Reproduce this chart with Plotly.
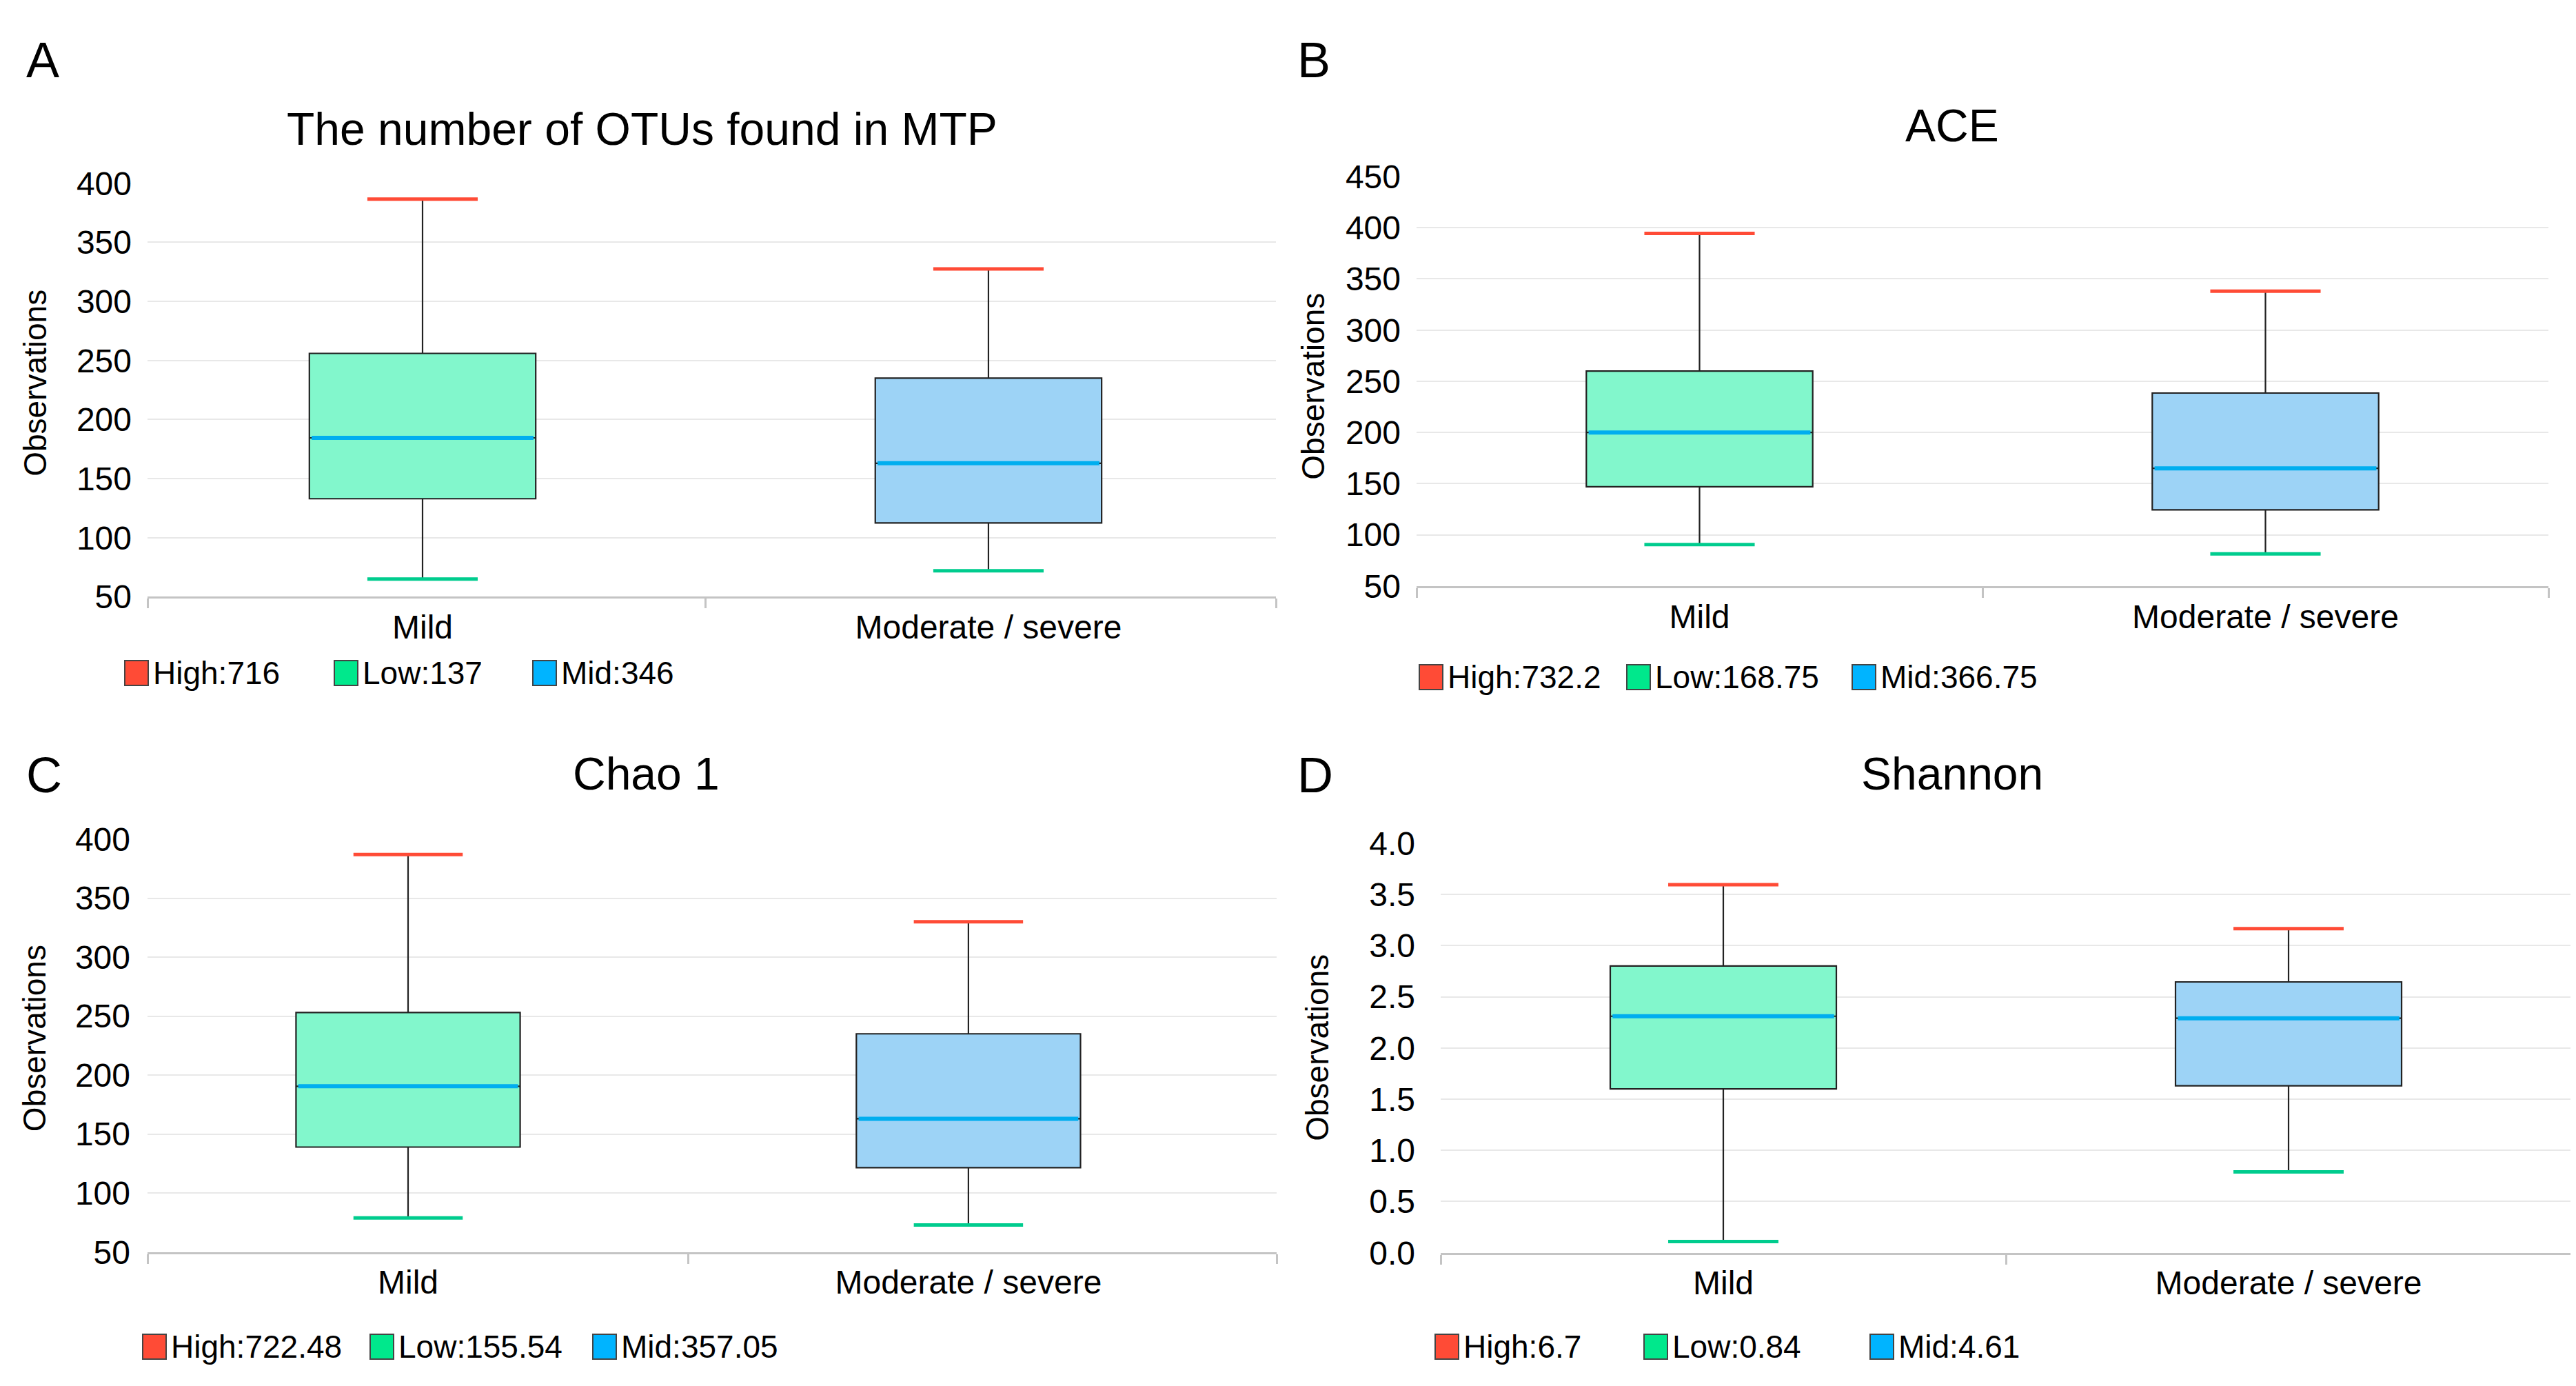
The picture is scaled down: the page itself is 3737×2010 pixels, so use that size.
import plotly.graph_objects as go

W, H = 3737, 2010
FONT = "Liberation Sans, Arial, sans-serif"

categories = ["Mild", "Moderate / severe"]

# Panel A: The number of OTUs found in MTP
a_low = [65, 72]
a_q1 = [133, 112.5]
a_med = [184.5, 163]
a_q3 = [256, 235]
a_high = [386.5, 327.5]
a_legend = ["High:716", "Low:137", "Mid:346"]

# Panel B: ACE
b_low = [90.5, 81.5]
b_q1 = [147, 124.5]
b_med = [200, 165]
b_q3 = [260, 238.5]
b_high = [394.5, 338]
b_legend = ["High:732.2", "Low:168.75", "Mid:366.75"]

# Panel C: Chao 1
c_low = [79, 73]
c_q1 = [139, 121.5]
c_med = [190.5, 163]
c_q3 = [253, 235]
c_high = [387, 330]
c_legend = ["High:722.48", "Low:155.54", "Mid:357.05"]

# Panel D: Shannon
d_low = [0.11, 0.79]
d_q1 = [1.6, 1.63]
d_med = [2.31, 2.29]
d_q3 = [2.8, 2.645]
d_high = [3.595, 3.165]
d_legend = ["High:6.7", "Low:0.84", "Mid:4.61"]

titles = ["The number of OTUs found in MTP", "ACE", "Chao 1", "Shannon"]
letters = ["A", "B", "C", "D"]

# styles
FILLS = ["#82F7CC", "#9DD3F6"]
RED = "#FF4B36"
GREEN_CAP = "#00CC8E"
MED_BLUE = "#00AEEF"
LEG_COLORS = ["#FF4B36", "#00E88C", "#00B4FF"]
BOX_W = 0.4
CAP_W = 0.195

panels = [
    dict(low=a_low, q1=a_q1, med=a_med, q3=a_q3, high=a_high, leg=a_legend,
         px=(206, 1843), py=(238, 854), xr=[-0.486, 1.508], yr=[50, 400], dt=50, fmt="d",
         title=(923, 157), letter=(54, 54), ytitle=(43, 536), std=22,
         legx=[172, 476, 764], legy=968),
    dict(low=b_low, q1=b_q1, med=b_med, q3=b_q3, high=b_high, leg=b_legend,
         px=(2047, 3689), py=(228, 838), xr=[-0.5, 1.5], yr=[50, 450], dt=50, fmt="d",
         title=(2824, 152), letter=(1898, 54), ytitle=(1897, 541), std=22,
         legx=[2050, 2351, 2678], legy=974),
    dict(low=c_low, q1=c_q1, med=c_med, q3=c_q3, high=c_high, leg=c_legend,
         px=(206, 1844), py=(1215, 1830), xr=[-0.465, 1.55], yr=[50, 400], dt=50, fmt="d",
         title=(929, 1117), letter=(56, 1120), ytitle=(42, 1512), std=24,
         legx=[198, 528, 851], legy=1971),
    dict(low=d_low, q1=d_q1, med=d_med, q3=d_q3, high=d_high, leg=d_legend,
         px=(2082, 3722), py=(1221, 1831), xr=[-0.5, 1.5], yr=[0, 4], dt=0.5, fmt=".1f",
         title=(2824, 1117), letter=(1900, 1120), ytitle=(1903, 1526), std=36,
         legx=[2073, 2376, 2704], legy=1971),
]

fig = go.Figure()
annotations = []

for k, p in enumerate(panels):
    sfx = "" if k == 0 else str(k + 1)
    xa, ya = "x" + sfx, "y" + sfx
    for i, cat in enumerate(categories):
        fig.add_trace(go.Box(
            x=[i], q1=[p["q1"][i]], median=[p["med"][i]], q3=[p["q3"][i]],
            lowerfence=[p["low"][i]], upperfence=[p["high"][i]],
            width=BOX_W, whiskerwidth=0, fillcolor=FILLS[i],
            line=dict(color="#222222", width=2.2), boxpoints=False,
            showlegend=False, hoverinfo="skip", xaxis=xa, yaxis=ya))
        # median line
        fig.add_trace(go.Scatter(
            x=[i - BOX_W / 2 + 0.004, i + BOX_W / 2 - 0.004], y=[p["med"][i]] * 2,
            mode="lines", line=dict(color=MED_BLUE, width=6),
            showlegend=False, hoverinfo="skip", xaxis=xa, yaxis=ya))
        # caps
        fig.add_trace(go.Scatter(
            x=[i - CAP_W / 2, i + CAP_W / 2], y=[p["high"][i]] * 2,
            mode="lines", line=dict(color=RED, width=5),
            showlegend=False, hoverinfo="skip", xaxis=xa, yaxis=ya))
        fig.add_trace(go.Scatter(
            x=[i - CAP_W / 2, i + CAP_W / 2], y=[p["low"][i]] * 2,
            mode="lines", line=dict(color=GREEN_CAP, width=5),
            showlegend=False, hoverinfo="skip", xaxis=xa, yaxis=ya))

    x0, x1 = p["px"]
    y0, y1 = p["py"]
    ticks_y = []
    v = p["yr"][0]
    while v <= p["yr"][1] + 1e-9:
        ticks_y.append(round(v, 3))
        v += p["dt"]
    fig.layout["xaxis" + sfx] = dict(
        domain=[x0 / W, x1 / W], range=p["xr"], anchor=ya,
        tickmode="array", tickvals=[0, 1], ticktext=categories, ticks="",
        showgrid=False, zeroline=False, showline=True, linecolor="#C4C4C4", linewidth=3,
        tickfont=dict(family=FONT, size=48, color="#000"),
        minor=dict(tickmode="array", tickvals=[p["xr"][0], 0.5, p["xr"][1]],
                   ticks="outside", ticklen=14, tickwidth=3, tickcolor="#C4C4C4", showgrid=False),
        fixedrange=True)
    fig.layout["yaxis" + sfx] = dict(
        domain=[1 - y1 / H, 1 - y0 / H], range=p["yr"], anchor=xa,
        tickmode="array", tickvals=ticks_y,
        ticktext=[(f"{t:.1f}" if p["fmt"] == ".1f" else f"{int(t)}") for t in ticks_y],
        ticks="", showgrid=True, gridcolor="#E8E8E8", gridwidth=2,
        zeroline=False, showline=False, ticklabelstandoff=p["std"],
        tickfont=dict(family=FONT, size=48, color="#000"), fixedrange=True)

    annotations.append(dict(text=titles[k], x=p["title"][0] / W, y=1 - p["title"][1] / H,
                            xref="paper", yref="paper", xanchor="center", yanchor="middle",
                            showarrow=False, font=dict(family=FONT, size=66, color="#000")))
    annotations.append(dict(text=letters[k], x=p["letter"][0] / W, y=1 - p["letter"][1] / H,
                            xref="paper", yref="paper", xanchor="center", yanchor="middle",
                            showarrow=False, font=dict(family=FONT, size=72, color="#000")))
    annotations.append(dict(text="Observations", x=p["ytitle"][0] / W, y=1 - p["ytitle"][1] / H,
                            xref="paper", yref="paper", xanchor="center", yanchor="middle",
                            textangle=-90, showarrow=False,
                            font=dict(family=FONT, size=46, color="#000")))
    for j, lab in enumerate(p["leg"]):
        lx = p["legx"][j]
        annotations.append(dict(text=" ", x=lx / W, y=1 - p["legy"] / H, xref="paper", yref="paper",
                                xanchor="left", yanchor="middle", showarrow=False,
                                width=32, height=34, bgcolor=LEG_COLORS[j], bordercolor="#444",
                                borderwidth=2, borderpad=0, font=dict(size=10)))
        annotations.append(dict(text=lab, x=(lx + 40) / W, y=1 - p["legy"] / H, xref="paper", yref="paper",
                                xanchor="left", yanchor="middle", showarrow=False,
                                font=dict(family=FONT, size=46, color="#000")))

fig.update_layout(width=W, height=H, margin=dict(l=0, r=0, t=0, b=0),
                  paper_bgcolor="white", plot_bgcolor="white", showlegend=False,
                  annotations=annotations, font=dict(family=FONT))
fig.write_html("out.html")
